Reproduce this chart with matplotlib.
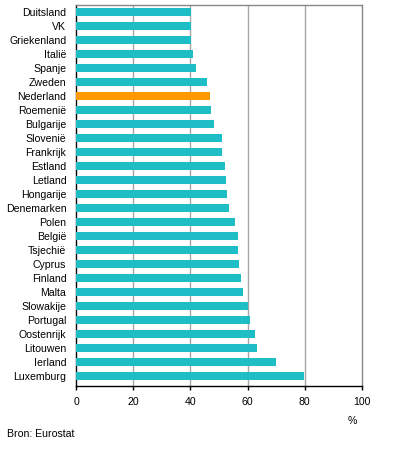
from matplotlib import pyplot as plt
import numpy as np

plt.rcParams['font.family'] = ['Liberation Sans', 'DejaVu Sans']

# Countries, top to bottom
landen = ["Duitsland", "VK", "Griekenland", "Italië", "Spanje", "Zweden",
          "Nederland", "Roemenië", "Bulgarije", "Slovenië", "Frankrijk",
          "Estland", "Letland", "Hongarije", "Denemarken", "Polen", "België",
          "Tsjechië", "Cyprus", "Finland", "Malta", "Slowakije", "Portugal",
          "Oostenrijk", "Litouwen", "Ierland", "Luxemburg"]
waarden = [40.2, 40.2, 40.2, 41.0, 42.0, 45.9, 46.9, 47.3, 48.3, 51.1, 51.1,
           52.2, 52.5, 52.9, 53.6, 55.7, 56.7, 56.7, 57.1, 57.8, 58.5, 60.1,
           60.9, 62.7, 63.4, 70.0, 79.9]
xticks = [0, 20, 40, 60, 80, 100]

teal = "#1fbdc6"
oranje = "#ff9900"
kleuren = [oranje if l == "Nederland" else teal for l in landen]

fig = plt.figure(figsize=(3.96, 4.5), dpi=100)
ax = fig.add_axes([0.192, 0.143, 0.722, 0.846])

y = np.arange(len(landen))
ax.barh(y, waarden, height=0.57, color=kleuren, zorder=3)

ax.set_xlim(0, 100)
ax.set_ylim(len(landen) - 0.31, -0.5)
ax.set_xticks(xticks)
ax.set_xticklabels([str(t) for t in xticks], fontsize=7.6)
ax.set_yticks(y)
ax.set_yticklabels(landen, fontsize=7.6)
ax.tick_params(axis='y', length=0, pad=7)
ax.tick_params(axis='x', length=3, width=1, pad=5, color='black')

for t in xticks[1:-1]:
    ax.axvline(t, color='#a6a6a6', linewidth=1, zorder=1)

ax.spines['left'].set_color('black')
ax.spines['bottom'].set_color('black')
ax.spines['top'].set_color('#888888')
ax.spines['right'].set_color('#888888')
for s in ax.spines.values():
    s.set_linewidth(1)

fig.text(352 / 396, 1 - 421 / 450, "%", fontsize=7.6, ha='center', va='center')
fig.text(7 / 396, 1 - 434 / 450, "Bron: Eurostat", fontsize=7.6, ha='left', va='center')

plt.savefig("out.png", dpi=100)
